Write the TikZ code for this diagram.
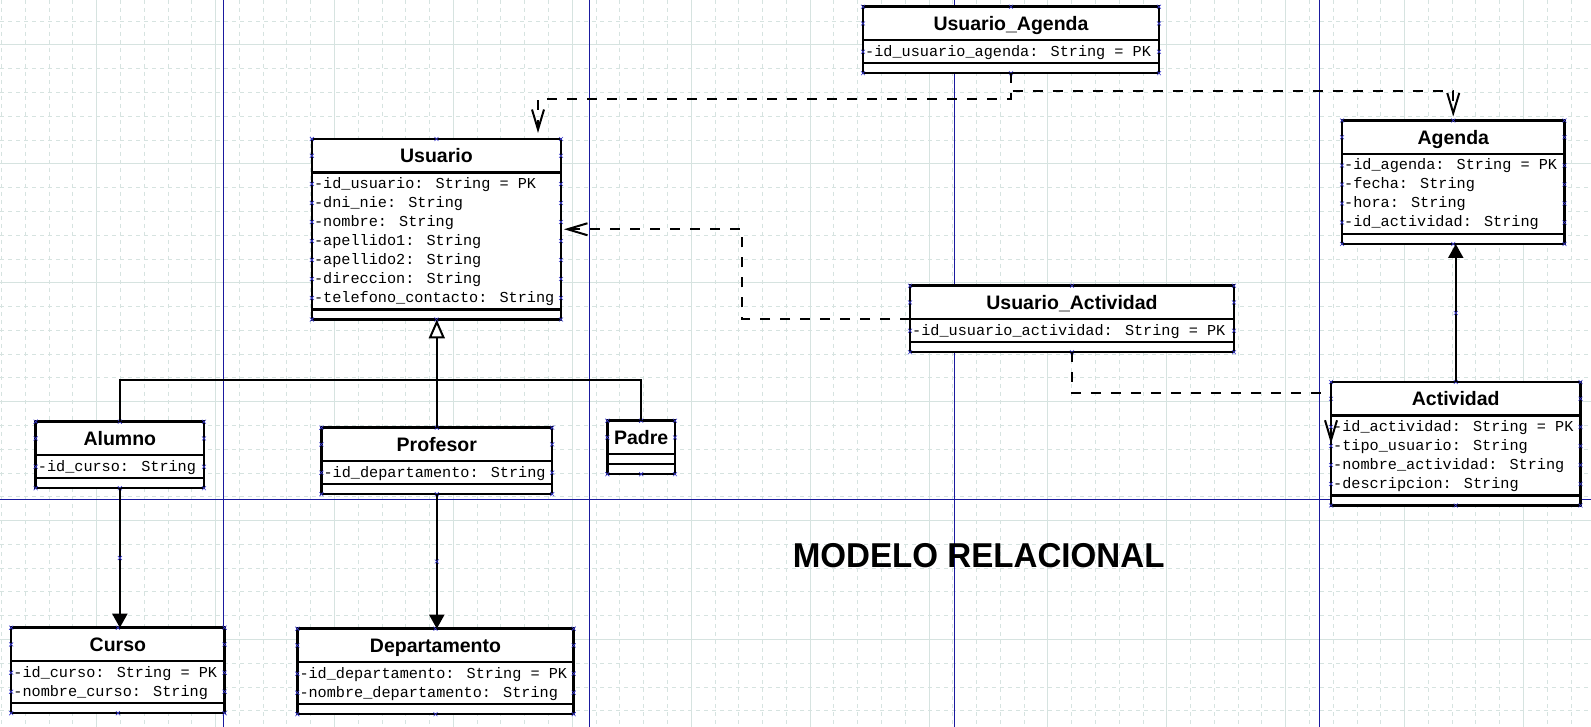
\documentclass[tikz,border=0pt]{standalone}
\usepackage{fontspec}
\setmainfont{Liberation Sans}
\newfontfamily\monof{Liberation Mono}
\usetikzlibrary{arrows.meta,calc}
\definecolor{gridc}{HTML}{D6E3E0}
\definecolor{pagec}{HTML}{1A1A9E}
\definecolor{handc}{HTML}{3A3AD0}
\tikzset{
  classbox/.style={draw=black, line width=2.5pt, fill=white, rectangle, inner sep=0pt, outer sep=0pt, anchor=north west},
  divline/.style={line width=2.5pt},
  titletext/.style={font=\fontsize{19.5}{20}\selectfont\bfseries, anchor=base, inner sep=0pt},
  attrtext/.style={font=\monof\fontsize{15.2}{16}\selectfont, anchor=base west, inner sep=0pt},
  handle/.style={draw=handc, line width=0.6pt},
  dep/.style={line width=2pt, dash pattern=on 10pt off 10pt, -{Straight Barb[length=20pt,width=12pt]}},
  assoc/.style={line width=2pt, -{Triangle[length=14pt,width=15pt]}},
  gen/.style={line width=2pt, -{Triangle[open,length=19pt,width=16pt,fill=white]}},
  plainline/.style={line width=2pt},
  gridd/.style={draw=gridc, line width=1pt, dash pattern=on 4pt off 4pt},
  grids/.style={draw=gridc, line width=1pt},
  pageline/.style={draw=pagec, line width=1pt},
  bigtitle/.style={font=\fontsize{34.5}{36}\selectfont\bfseries, xscale=0.96, anchor=base, inner sep=0pt}
}
\newcommand{\hmark}[2]{\draw[handle] ({#1-2},{#2-2}) -- ({#1+2},{#2+2}) ({#1-2},{#2+2}) -- ({#1+2},{#2-2});}
% #1 name, #2 left, #3 right, #4 top, #5 rows, #6 title, #7 attributes
\newcommand{\umlclass}[7]{%
  \pgfmathsetmacro{\cD}{#4+33.5}%
  \pgfmathsetmacro{\cE}{\cD+ifthenelse(#5==0,10,4+19*#5)}%
  \pgfmathsetmacro{\cB}{\cE+10}%
  \pgfmathsetmacro{\cW}{#3-#2}%
  \pgfmathsetmacro{\cH}{\cB-#4}%
  \pgfmathsetmacro{\cM}{(#2+#3)/2}%
  \pgfmathsetmacro{\cTc}{(#4+\cD)/2}%
  \node[classbox, minimum width=\cW pt, minimum height=\cH pt] (#1) at (#2,#4) {};
  \draw[divline] (#2,\cD) -- (#3,\cD);
  \draw[divline] (#2,\cE) -- (#3,\cE);
  \node[titletext] (#1-t) at (\cM,\cTc+6.8) {#6};
  \ifnum#5>0
    \foreach \a [count=\i] in {#7} {
      \pgfmathsetmacro{\ry}{\cD+2+19*\i-9.5}
      \node[attrtext] (#1-a\i) at (#2+2,\ry+4.5) {\a};
      \hmark{#2}{\ry}
      \hmark{#3}{\ry}
    }
  \fi
  \hmark{#2}{#4}\hmark{#3}{#4}\hmark{#2}{\cB}\hmark{#3}{\cB}
  \hmark{\cM}{#4}\hmark{\cM}{\cB}\hmark{#2}{\cTc}\hmark{#3}{\cTc}
}
\begin{document}
\begin{tikzpicture}[x=1pt,y=-1pt]
\useasboundingbox (0,0) rectangle (1591,727);
\fill[white] (0,0) rectangle (1591,727);
% grid
\foreach \k in {0,...,66} {
  \pgfmathsetmacro{\gx}{1.6+23.78*\k}
  \pgfmathtruncatemacro{\m}{mod(\k,5)}
  \ifnum\m=4 \draw[grids] (\gx,0) -- (\gx,727); \else \draw[gridd] (\gx,0) -- (\gx,727); \fi
}
\foreach \k in {1,...,30} {
  \pgfmathsetmacro{\gy}{-2.56+23.78*\k}
  \pgfmathtruncatemacro{\m}{mod(\k,5)}
  \ifnum\m=2 \draw[grids] (0,\gy) -- (1591,\gy); \else \draw[gridd] (0,\gy) -- (1591,\gy); \fi
}
% page borders
\foreach \px in {223.3,589,954.5,1319.5} { \draw[pageline] (\px,0) -- (\px,727); }
\draw[pageline] (0,499) -- (1591,499);
% title
\node[bigtitle] (modelo) at (978.7,567.3) {MODELO RELACIONAL};
% classes
\umlclass{uagenda}{863}{1159}{6.7}{1}{Usuario\_Agenda}{-id\_usuario\_agenda: String = PK}
\umlclass{usuario}{311.9}{561}{139}{7}{Usuario}{-id\_usuario: String = PK, -dni\_nie: String, -nombre: String, -apellido1: String, -apellido2: String, -direccion: String, -telefono\_contacto: String}
\umlclass{agenda}{1342}{1564.5}{120.5}{4}{Agenda}{-id\_agenda: String = PK, -fecha: String, -hora: String, -id\_actividad: String}
\umlclass{uact}{910}{1234}{285.7}{1}{Usuario\_Actividad}{-id\_usuario\_actividad: String = PK}
\umlclass{actividad}{1331}{1580.5}{382}{4}{Actividad}{-id\_actividad: String = PK, -tipo\_usuario: String, -nombre\_actividad: String, -descripcion: String}
\umlclass{alumno}{35.7}{204}{421.7}{1}{Alumno}{-id\_curso: String}
\umlclass{profesor}{321.4}{552.2}{427.7}{1}{Profesor}{-id\_departamento: String}
\umlclass{padre}{607.3}{675}{420.7}{0}{Padre}{}
\umlclass{curso}{11.2}{224.6}{627.7}{2}{Curso}{-id\_curso: String = PK, -nombre\_curso: String}
\umlclass{departamento}{297.3}{573.7}{628.7}{2}{Departamento}{-id\_departamento: String = PK, -nombre\_departamento: String}
% connectors
\coordinate (d1) at (538,98.7);
\coordinate (d2) at (0,91.5);
\coordinate (d3) at (741.5,319);
\coordinate (d5) at (0,393.3);
\coordinate (g) at (0,380);
\draw[dep, shorten >=6pt] (uagenda.south) |- (d1) -- (usuario.north -| d1);
\draw[dep, shorten >=4pt] (uagenda.south) -- (uagenda.south |- d2) -- (agenda.north |- d2) -- (agenda.north);
\draw[dep, shorten >=3pt] (uact.west |- d3) -- (d3) |- (usuario.east);
\draw[dep] (uact.south) |- (actividad.west |- d5) -- (actividad.west);
\draw[plainline] (alumno.north) |- (padre.north |- g) -- (padre.north);
\draw[gen] (profesor.north) -- (profesor.north |- usuario.south);
\draw[assoc] (alumno.south) -- (alumno.south |- curso.north);
\draw[assoc] (profesor.south) -- (profesor.south |- departamento.north);
\draw[assoc] (actividad.north) -- (actividad.north |- agenda.south);
\hmark{119.85}{558}
\hmark{436.8}{561.5}
\hmark{1455.75}{313}
\end{tikzpicture}
\end{document}
